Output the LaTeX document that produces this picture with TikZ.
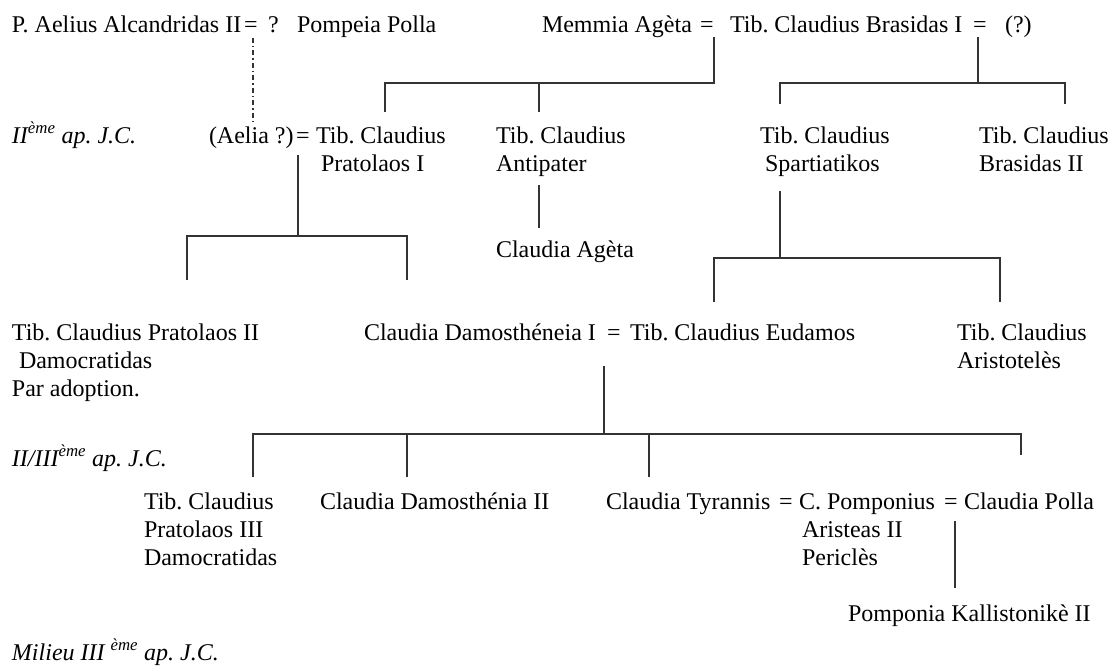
\documentclass[tikz,border=0pt]{standalone}
\usepackage{fontspec}
\setmainfont{Liberation Serif}
\newcommand{\mystack}[1]{\begin{tabular}[t]{@{}l@{}}#1\end{tabular}}
\frenchspacing
\begin{document}
\begin{tikzpicture}[x=1pt,y=-1pt,
  every node/.style={inner sep=0pt, outer sep=0pt, anchor=base west,
    font=\fontsize{24}{28}\selectfont\frenchspacing},
  lbl/.style={font=\fontsize{24}{28}\selectfont\frenchspacing\itshape},
  eq/.style={anchor=base},
  link/.style={line width=1.4pt, draw=black!80},
  doubt/.style={line width=1.2pt, draw=black!80, dash pattern=on 5pt off 3pt on 1.5pt off 3pt}]
\useasboundingbox (0,0) rectangle (1113,666);

% Row 1
\node (aelius) at (12,33) {P. Aelius Alcandridas II};
\node[eq] (eqA) at (251,33) {=};
\node (qA) at (268,33) {?};
\node (pompeia) at (297,33) {Pompeia Polla};
\node (memmia) at (542,33) {Memmia Agèta};
\node[eq] (eqB) at (707,33) {=};
\node (brasidas) at (730,33) {Tib. Claudius Brasidas I};
\node[eq] (eqC) at (980,33) {=};
\node (qB) at (1005,33) {(?)};

% Row 2
\node[lbl] (d2) at (12,143) {II\textsuperscript{ème} ap. J.C.};
\node (aelia) at (209,143) {(Aelia ?)};
\node[eq] (eqD) at (303,143) {=};
\node (prat1) at (316,143) {\mystack{Tib. Claudius\\\hspace*{5pt}Pratolaos I}};
\node (antip) at (496,143) {\mystack{Tib. Claudius\\Antipater}};
\node (spart) at (760,143) {\mystack{Tib. Claudius\\\hspace*{5pt}Spartiatikos}};
\node (bras2) at (979,143) {\mystack{Tib. Claudius\\Brasidas II}};
\node (ageta) at (496,257) {Claudia Agèta};

% Row 3
\node (prat2) at (12,340) {\mystack{Tib. Claudius Pratolaos II\\\hspace*{7pt}Damocratidas\\Par adoption.}};
\node (damo1) at (364,340) {Claudia Damosthéneia I};
\node[eq] (eqE) at (614,340) {=};
\node (eudam) at (630,340) {Tib. Claudius Eudamos};
\node (aristo) at (957,340) {\mystack{Tib. Claudius\\Aristotelès}};

% Row 4
\node[lbl] (d3) at (12,466) {II/III\textsuperscript{ème} ap. J.C.};
\node (prat3) at (144,509) {\mystack{Tib. Claudius\\Pratolaos III\\Damocratidas}};
\node (damo2) at (320,509) {Claudia Damosthénia II};
\node (tyr) at (606,509) {Claudia Tyrannis};
\node[eq] (eqF) at (786,509) {=};
\node (pompon) at (799,509) {\mystack{C. Pomponius\\\hspace*{3pt}Aristeas II\\\hspace*{3pt}Periclès}};
\node[eq] (eqG) at (951,509) {=};
\node (polla) at (964,509) {Claudia Polla};
\node (kalli) at (848,621) {Pomponia Kallistonikè II};
\node[lbl] (d4) at (12,660) {Milieu III \textsuperscript{ème} ap. J.C.};

% connector points
\coordinate (aTop) at (253,38);   \coordinate (aBot) at (253,125);
\coordinate (f1top) at (714,37);  \coordinate (f1bar) at (714,83);
\coordinate (f1a) at (385,112);   \coordinate (f1b) at (539,112);
\coordinate (f2top) at (978,37);  \coordinate (f2bar) at (978,83);
\coordinate (f2a) at (780,104);   \coordinate (f2b) at (1065,104);
\coordinate (f3top) at (298,155); \coordinate (f3bar) at (298,236);
\coordinate (f3a) at (187,280);   \coordinate (f3b) at (407,280);
\coordinate (f4top) at (539,185); \coordinate (f4bot) at (539,228);
\coordinate (f5top) at (780,191); \coordinate (f5bar) at (780,258);
\coordinate (f5a) at (714,302);   \coordinate (f5b) at (1000,302);
\coordinate (f6top) at (604,366); \coordinate (f6bar) at (604,434);
\coordinate (f6a) at (253,477);   \coordinate (f6b) at (407,477);
\coordinate (f6c) at (649,477);   \coordinate (f6d) at (1021,455);
\coordinate (f7top) at (955,521); \coordinate (f7bot) at (955,588);

% connectors
\draw[doubt] (aTop) -- (aBot);
\draw[link] (f1top) -- (f1bar) -| (f1a);
\draw[link] (f1b |- f1bar) -- (f1b);
\draw[link] (f2top) -- (f2bar);
\draw[link] (f2a) |- (f2b |- f2bar) -- (f2b);
\draw[link] (f3top) -- (f3bar);
\draw[link] (f3a) |- (f3b |- f3bar) -- (f3b);
\draw[link] (f4top) -- (f4bot);
\draw[link] (f5top) -- (f5bar);
\draw[link] (f5a) |- (f5b |- f5bar) -- (f5b);
\draw[link] (f6top) -- (f6bar);
\draw[link] (f6a) |- (f6d |- f6bar) -- (f6d);
\draw[link] (f6b |- f6bar) -- (f6b);
\draw[link] (f6c |- f6bar) -- (f6c);
\draw[link] (f7top) -- (f7bot);
\end{tikzpicture}
\end{document}
